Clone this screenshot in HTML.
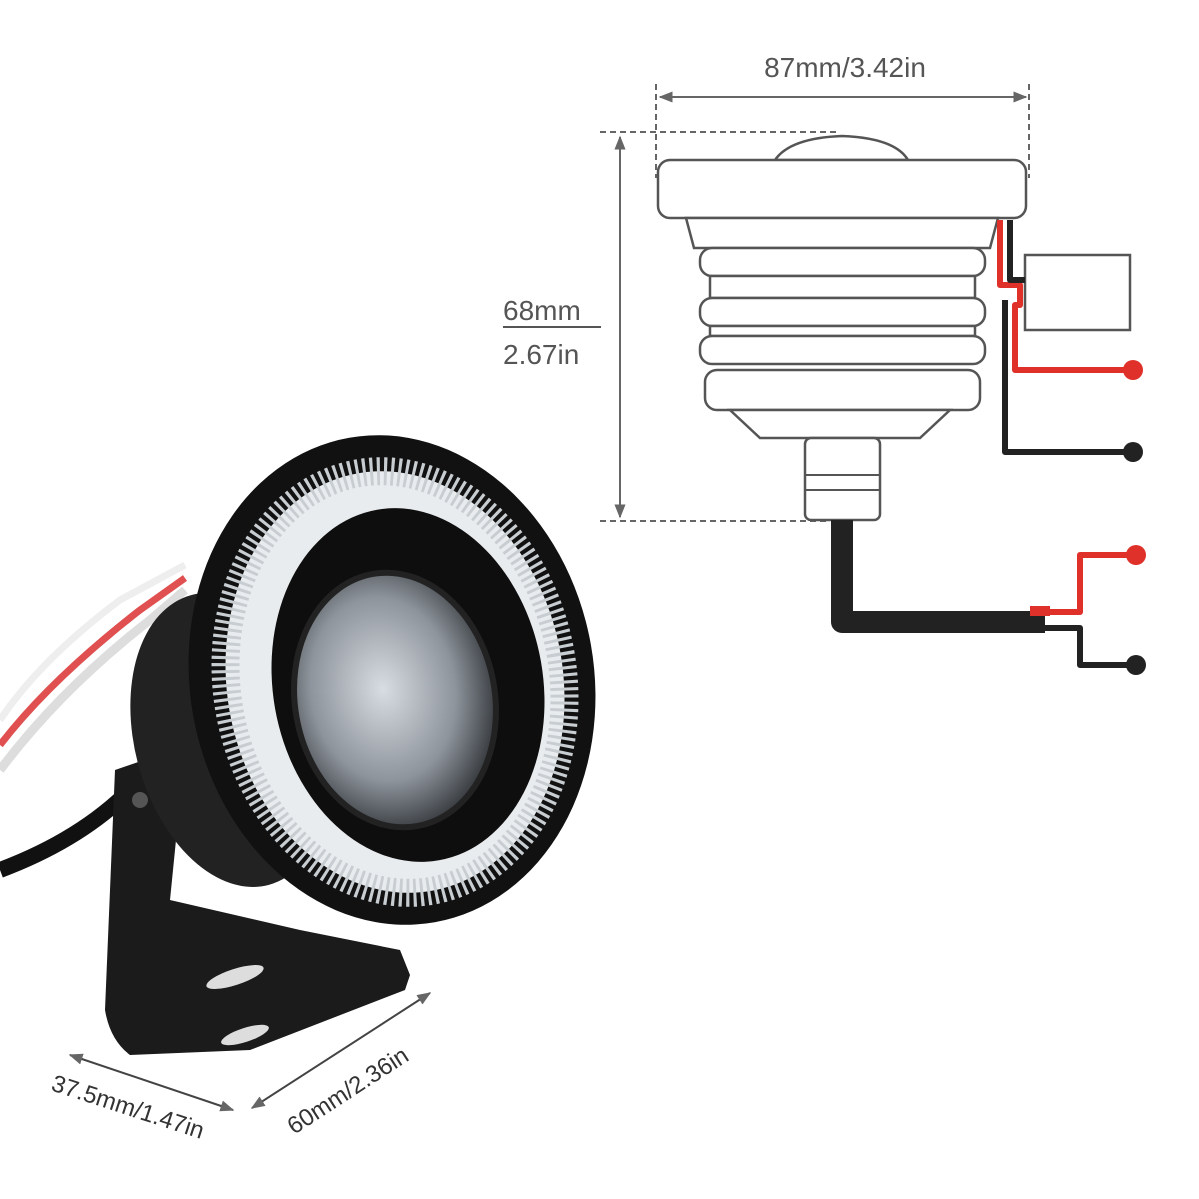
<!DOCTYPE html>
<html><head><style>html,body{margin:0;padding:0;background:#fff}svg{display:block}</style></head>
<body>
<svg width="1199" height="1199" viewBox="0 0 1199 1199" xmlns="http://www.w3.org/2000/svg" font-family="Liberation Sans, sans-serif">
<defs>
<marker id="ar" viewBox="0 0 10 10" refX="9" refY="5" markerWidth="7" markerHeight="7" orient="auto-start-reverse"><path d="M0,1 L10,5 L0,9 z" fill="#666"/></marker>
<radialGradient id="lens" cx="45%" cy="45%" r="60%"><stop offset="0" stop-color="#d8dde2"/><stop offset="0.6" stop-color="#8d949b"/><stop offset="1" stop-color="#2a2d31"/></radialGradient>
</defs>
<rect width="1199" height="1199" fill="#fff"/>
<text x="845" y="77" font-size="28" fill="#555" text-anchor="middle">87mm/3.42in</text>
<line x1="660" y1="97" x2="1026" y2="97" stroke="#666" stroke-width="2" marker-start="url(#ar)" marker-end="url(#ar)"/>
<line x1="656" y1="84" x2="656" y2="178" stroke="#666" stroke-width="2" stroke-dasharray="6,4"/>
<line x1="1029" y1="84" x2="1029" y2="178" stroke="#666" stroke-width="2" stroke-dasharray="6,4"/>
<line x1="600" y1="132" x2="840" y2="132" stroke="#666" stroke-width="2" stroke-dasharray="6,4"/>
<line x1="600" y1="521" x2="830" y2="521" stroke="#666" stroke-width="2" stroke-dasharray="6,4"/>
<line x1="620" y1="137" x2="620" y2="517" stroke="#666" stroke-width="2" marker-start="url(#ar)" marker-end="url(#ar)"/>
<text x="503" y="320" font-size="28" fill="#555">68mm</text>
<line x1="503" y1="327" x2="601" y2="327" stroke="#555" stroke-width="2"/>
<text x="503" y="364" font-size="28" fill="#555">2.67in</text>
<g fill="#fff" stroke="#555" stroke-width="2.5">
<path d="M775,160 Q790,138 842,136 Q895,138 908,160 z"/>
<rect x="658" y="160" width="368" height="58" rx="12"/>
<path d="M686,218 L998,218 L990,248 L694,248 z"/>
<rect x="700" y="248" width="285" height="28" rx="12"/>
<rect x="710" y="276" width="265" height="22"/>
<rect x="700" y="298" width="285" height="28" rx="12"/>
<rect x="710" y="326" width="265" height="10"/>
<rect x="700" y="336" width="285" height="28" rx="12"/>
<rect x="705" y="370" width="275" height="40" rx="12"/>
<path d="M730,410 L950,410 L920,438 L760,438 z"/>
<rect x="805" y="438" width="75" height="82" rx="6"/>
<rect x="1025" y="255" width="105" height="75"/>
</g>
<line x1="805" y1="475" x2="880" y2="475" stroke="#555" stroke-width="2"/>
<line x1="805" y1="490" x2="880" y2="490" stroke="#555" stroke-width="2"/>
<g fill="none" stroke-width="6" stroke-linejoin="round">
<path d="M1000,220 L1000,285 L1020,285 L1020,305 L1015,305 L1015,370 L1130,370" stroke="#e0302a"/>
<path d="M1010,220 L1010,280 L1025,280 M1005,300 L1005,452 L1130,452" stroke="#222"/>
<path d="M842,520 L842,622 L1045,622" stroke="#222" stroke-width="22"/>
<path d="M1040,612 L1080,612 L1080,555 L1133,555" stroke="#e0302a" stroke-width="6"/>
<path d="M1040,628 L1080,628 L1080,665 L1133,665" stroke="#222" stroke-width="6"/>
</g>
<path d="M1030,611 L1050,611" stroke="#e0302a" stroke-width="10"/>
<circle cx="1133" cy="370" r="10" fill="#e0302a"/>
<circle cx="1133" cy="452" r="10" fill="#222"/>
<circle cx="1136" cy="555" r="10" fill="#e0302a"/>
<circle cx="1136" cy="665" r="10" fill="#222"/>
<path d="M0,870 Q80,840 130,790" stroke="#111" stroke-width="16" fill="none"/>
<path d="M0,770 Q60,690 150,620 L185,590" stroke="#ddd" stroke-width="9" fill="none"/>
<path d="M0,745 Q50,680 140,610 L185,578" stroke="#e05050" stroke-width="7" fill="none"/>
<path d="M0,720 Q40,660 120,600 L185,565" stroke="#eee" stroke-width="7" fill="none"/>
<path d="M105,1010 L115,770 L150,758 L180,800 L170,900 L300,930 L400,950 L410,975 L405,990 L250,1050 L130,1055 Q110,1040 105,1010 z" fill="#1b1b1b"/>
<ellipse cx="235" cy="977" rx="30" ry="8" fill="#ddd" transform="rotate(-18 235 977)"/>
<ellipse cx="245" cy="1035" rx="25" ry="7" fill="#ddd" transform="rotate(-18 245 1035)"/>
<circle cx="140" cy="800" r="8" fill="#555"/>
<ellipse cx="230" cy="740" rx="95" ry="150" fill="#222" transform="rotate(-15 230 740)"/>
<ellipse cx="392" cy="680" rx="202" ry="246" fill="#111" transform="rotate(-10 392 680)"/>
<ellipse cx="395" cy="682" rx="168" ry="212" fill="#e9ecee" transform="rotate(-10 395 682)"/>
<ellipse cx="395" cy="682" rx="168" ry="212" fill="none" stroke="#c8cdd1" stroke-width="28" stroke-dasharray="3,4" transform="rotate(-10 395 682)"/>
<ellipse cx="408" cy="685" rx="135" ry="178" fill="#0e0e0e" transform="rotate(-10 408 685)"/>
<ellipse cx="395" cy="700" rx="100" ry="128" fill="url(#lens)" transform="rotate(-10 395 700)"/>
<ellipse cx="395" cy="700" rx="100" ry="128" fill="none" stroke="#222" stroke-width="6" transform="rotate(-10 395 700)"/>
<line x1="70" y1="1055" x2="233" y2="1110" stroke="#444" stroke-width="2" marker-start="url(#ar)" marker-end="url(#ar)"/>
<text x="50" y="1090" font-size="24" fill="#333" transform="rotate(18 50 1090)">37.5mm/1.47in</text>
<line x1="252" y1="1108" x2="430" y2="993" stroke="#444" stroke-width="2" marker-start="url(#ar)" marker-end="url(#ar)"/>
<text x="294" y="1135" font-size="24" fill="#333" transform="rotate(-33 294 1135)">60mm/2.36in</text>
</svg>
</body></html>
